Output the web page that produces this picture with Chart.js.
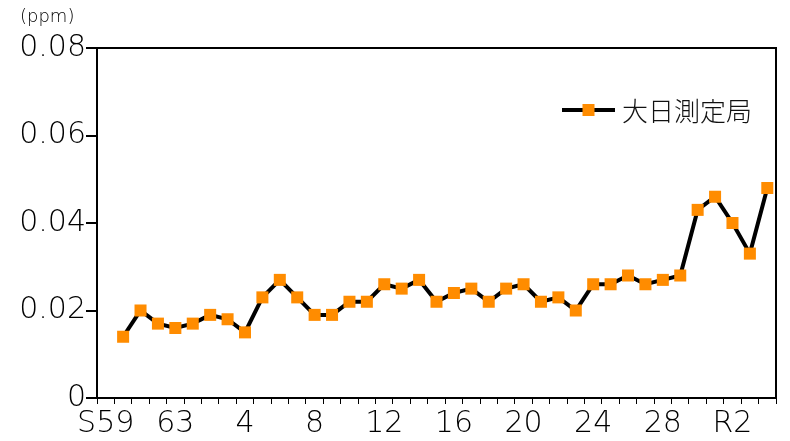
<!DOCTYPE html>
<html><head><meta charset="utf-8">
<script src="https://cdn.jsdelivr.net/npm/chart.js@4/dist/chart.umd.min.js"></script>
<style>html,body{margin:0;padding:0;background:#fff}#wrap{width:790px;height:441px}</style>
</head><body><div id="wrap"><canvas id="c" width="790" height="441"></canvas></div>
<script>
const categories = ['S59','S60','S61','S62','S63',
  'H1','H2','H3','H4','H5','H6','H7','H8','H9','H10',
  'H11','H12','H13','H14','H15','H16','H17','H18','H19','H20',
  'H21','H22','H23','H24','H25','H26','H27','H28','H29','H30',
  'R1','R2','R3','R4'];
const tickLabels = ['S59','63','4','8','12','16','20','24','28','R2'];
const tickEvery = 4;
const seriesName = '大日測定局';
const ozone = [null, 0.014, 0.020, 0.017, 0.016,
  0.017, 0.019, 0.018, 0.015, 0.023, 0.027, 0.023, 0.019, 0.019, 0.022,
  0.022, 0.026, 0.025, 0.027, 0.022, 0.024, 0.025, 0.022, 0.025, 0.026,
  0.022, 0.023, 0.020, 0.026, 0.026, 0.028, 0.026, 0.027, 0.028, 0.043,
  0.046, 0.040, 0.033, 0.048];
const unitLabel = '(ppm)';

const FONT = '"DejaVu Sans", "Noto Sans", sans-serif';
const JFONT = '"Noto Sans CJK JP", sans-serif';
const LINE = '#000000';
const MARK = '#FF8C00';

const decor = {
  id: 'decor',
  afterDraw(chart) {
    const ctx = chart.ctx, ca = chart.chartArea;
    ctx.save();
    ctx.strokeStyle = '#000';
    ctx.lineWidth = 2;
    ctx.strokeRect(ca.left, ca.top, ca.right - ca.left, ca.bottom - ca.top);
    ctx.fillStyle = '#000';
    ctx.font = '200 18px ' + FONT;
    ctx.textBaseline = 'middle';
    ctx.textAlign = 'left';
    ctx.fillText(unitLabel, 20, 17);
    const ly = ca.top + 62;
    const lx0 = ca.right - 214, lx1 = ca.right - 161;
    ctx.strokeStyle = LINE;
    ctx.lineWidth = 4;
    ctx.beginPath(); ctx.moveTo(lx0, ly); ctx.lineTo(lx1, ly); ctx.stroke();
    ctx.fillStyle = MARK;
    const mx = (lx0 + lx1) / 2;
    ctx.fillRect(mx - 6, ly - 6, 12, 12);
    ctx.fillStyle = '#111';
    ctx.font = '300 26px ' + JFONT;
    ctx.fillText(seriesName, ca.right - 154, ly + 1);
    ctx.restore();
  }
};

new Chart(document.getElementById('c'), {
  type: 'line',
  data: {
    labels: categories,
    datasets: [{
      label: seriesName,
      data: ozone,
      borderColor: LINE,
      borderWidth: 4,
      tension: 0,
      pointStyle: 'rect',
      pointRadius: 8.5,
      pointBorderWidth: 0,
      pointBackgroundColor: MARK,
      pointBorderColor: MARK,
      clip: false
    }]
  },
  options: {
    responsive: false,
    devicePixelRatio: 1,
    animation: false,
    layout: { padding: { left: 0, top: 48, right: 14, bottom: 0 } },
    plugins: { legend: { display: false }, tooltip: { enabled: false } },
    scales: {
      x: {
        type: 'category',
        offset: true,
        afterFit(s) { s.height = 43; },
        grid: { offset: true, drawOnChartArea: false, drawTicks: true, tickLength: 6, color: '#000', lineWidth: 1 },
        border: { display: true, color: '#000', width: 2 },
        ticks: {
          autoSkip: false, maxRotation: 0, minRotation: 0, padding: 2,
          color: '#000', font: { family: FONT, size: 30, weight: '200' },
          callback(v, i) { return i % tickEvery === 0 ? (tickLabels[i / tickEvery] || '') : ''; }
        }
      },
      y: {
        min: 0, max: 0.08,
        afterFit(s) { s.width = 97; },
        grid: { drawOnChartArea: false, drawTicks: true, tickLength: 11, color: '#000', lineWidth: 2 },
        border: { display: true, color: '#000', width: 2 },
        ticks: {
          stepSize: 0.02, padding: 0, color: '#000',
          font: { family: FONT, size: 30, weight: '200' },
          callback(v) { return v === 0 ? '0' : v.toFixed(2); }
        }
      }
    }
  },
  plugins: [decor]
});
</script></body></html>
